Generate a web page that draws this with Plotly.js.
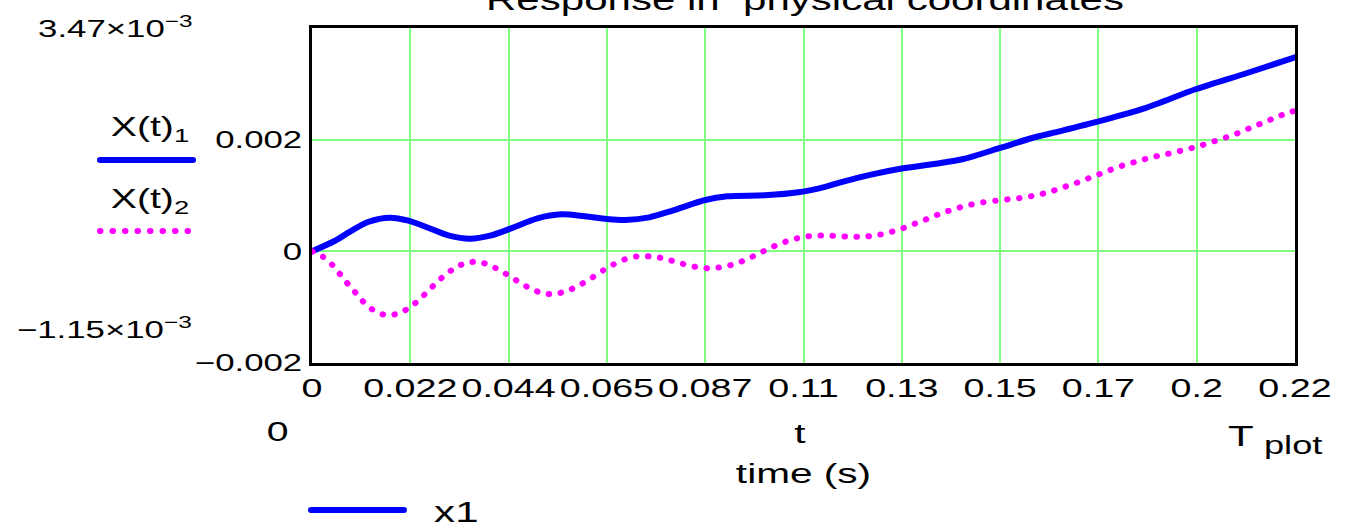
<!DOCTYPE html>
<html>
<head>
<meta charset="utf-8">
<script src="https://cdn.plot.ly/plotly-3.0.1.min.js"></script>
<style>
html, body { margin: 0; padding: 0; background: #ffffff; }
#chart { width: 1355px; height: 529px; }
.scatterlayer .js-line, .shapelayer path { stroke-linecap: round; stroke-linejoin: round; }
</style>
</head>
<body>
<div id="chart"></div>
<script>
// ---- data ----
const T_PLOT = 0.218;

const tX1 = [0, 0.0049, 0.0086, 0.0124, 0.0173, 0.0214, 0.0259, 0.0304, 0.0350, 0.0395,
  0.0440, 0.0500, 0.0553, 0.0605, 0.0654, 0.0695, 0.0748, 0.0801, 0.0872, 0.0921,
  0.1004, 0.1079, 0.1140, 0.1172, 0.1240, 0.1308, 0.1384, 0.1445, 0.1526, 0.1597,
  0.1657, 0.1744, 0.1846, 0.1961, 0.2074, 0.2180];
const x1 = [0, 0.000180, 0.000360, 0.000525, 0.000603, 0.000549, 0.000418, 0.000281, 0.000227, 0.000281,
  0.000406, 0.000591, 0.000663, 0.000627, 0.000579, 0.000561, 0.000609, 0.000734, 0.000919, 0.000985,
  0.001003, 0.001057, 0.001160, 0.001235, 0.001375, 0.001485, 0.001570, 0.001654, 0.001851, 0.002030,
  0.002149, 0.002328, 0.002561, 0.002907, 0.003194, 0.003475];

const tX2 = [0, 0.0025, 0.0046, 0.0063, 0.0081, 0.0099, 0.0117, 0.0139, 0.0165, 0.0191,
  0.0216, 0.0237, 0.0257, 0.0276, 0.0297, 0.0320, 0.0345, 0.0372, 0.0398, 0.0423,
  0.0446, 0.0470, 0.0494, 0.0521, 0.0547, 0.0574, 0.0598, 0.0622, 0.0646, 0.0669,
  0.0694, 0.0721, 0.0749, 0.0776, 0.0803, 0.0829, 0.0856, 0.0883, 0.0910, 0.0938,
  0.0964, 0.0989, 0.1013, 0.1038, 0.1064, 0.1092, 0.1119, 0.1147, 0.1169, 0.1197,
  0.1225, 0.1252, 0.1278, 0.1306, 0.1331, 0.1357, 0.1382, 0.1408, 0.1435, 0.1461,
  0.1488, 0.1516, 0.1543, 0.1570, 0.1597, 0.1624, 0.1651, 0.1677, 0.1703, 0.1729,
  0.1755, 0.1780, 0.1806, 0.1833, 0.1859, 0.1886, 0.1913, 0.1939, 0.1966, 0.1993,
  0.2019, 0.2045, 0.2071, 0.2097, 0.2122, 0.2147, 0.2173, 0.2180];
const x2 = [0, -0.000101, -0.000251, -0.000418, -0.000597, -0.000764, -0.000931, -0.001069, -0.001146, -0.001116,
  -0.001009, -0.000872, -0.000716, -0.000561, -0.000412, -0.000281, -0.000197, -0.000191, -0.000263, -0.000370,
  -0.000484, -0.000603, -0.000704, -0.000764, -0.000752, -0.000681, -0.000585, -0.000466, -0.000340, -0.000233,
  -0.000143, -0.000090, -0.000090, -0.000119, -0.000179, -0.000239, -0.000287, -0.000304, -0.000281, -0.000227,
  -0.000143, -0.000048, 0.000048, 0.000137, 0.000209, 0.000263, 0.000281, 0.000281, 0.000269, 0.000263,
  0.000263, 0.000287, 0.000334, 0.000400, 0.000478, 0.000555, 0.000639, 0.000716, 0.000782, 0.000836,
  0.000878, 0.000907, 0.000931, 0.000955, 0.000991, 0.001039, 0.001104, 0.001176, 0.001248, 0.001331,
  0.001409, 0.001487, 0.001558, 0.001618, 0.001678, 0.001725, 0.001773, 0.001827, 0.001881, 0.001952,
  0.002018, 0.002090, 0.002179, 0.002263, 0.002346, 0.002430, 0.002501, 0.002520];

const xTickLabels = ['0', '0.022', '0.044', '0.065', '0.087', '0.11', '0.13', '0.15', '0.17', '0.2', '0.22'];
const yTickValues = [-0.002, 0, 0.002, 0.004];
const yTickLabels = ['\u22120.002', '0', '0.002', ''];
const yMaxLabel = '3.47\u00d710<sup>\u22123</sup>';
const yMinLabel = '\u22121.15\u00d710<sup>\u22123</sup>';

// ---- layout helpers ----
const W = 1355, H = 529;
const M = { l: 312, r: 60, t: 28, b: 166 };
const PW = W - M.l - M.r, PH = H - M.t - M.b;
const px = x => (x - M.l) / PW;          // page px -> paper x
const py = y => (H - M.b - y) / PH;       // page px -> paper y
const FONT = 'Liberation Sans, Arial, sans-serif';
const BLUE = '#0000ff', MAGENTA = '#ff00ff', GRID = '#80ff80';

const xTickVals = xTickLabels.map((_, i) => i * T_PLOT / 10);

const traces = [
  { x: tX1, y: x1, type: 'scatter', mode: 'lines', name: 'X(t)1',
    line: { color: BLUE, width: 6, shape: 'spline', smoothing: 0.8 }, showlegend: false, hoverinfo: 'skip' },
  { x: tX2, y: x2, type: 'scatter', mode: 'lines', name: 'X(t)2',
    line: { color: MAGENTA, width: 6, dash: '0.5px,11.5px', shape: 'spline', smoothing: 0.6 }, showlegend: false, hoverinfo: 'skip' }
];

function ann(text, cx, cy, size) {
  return { text: text, xref: 'paper', yref: 'paper', x: px(cx), y: py(cy),
    xanchor: 'center', yanchor: 'middle', showarrow: false,
    font: { family: FONT, size: size, color: '#000' } };
}

const layout = {
  width: W, height: H,
  margin: M,
  paper_bgcolor: '#ffffff', plot_bgcolor: '#ffffff',
  font: { family: FONT, color: '#000' },
  showlegend: false,
  title: { text: 'Response in  physical coordinates', font: { family: FONT, size: 29, color: '#000' },
    x: 805 / W, xref: 'container', xanchor: 'center', y: 1, yref: 'container', yanchor: 'middle' },
  xaxis: {
    range: [0, T_PLOT], tickmode: 'array', tickvals: xTickVals, ticktext: xTickLabels,
    showgrid: true, gridcolor: GRID, gridwidth: 2, zeroline: false,
    showline: true, linecolor: '#000', linewidth: 3, mirror: true,
    ticks: '', ticklabelstandoff: 0,
    tickfont: { family: FONT, size: 26, color: '#000' },
    title: { text: 'time (s)', font: { family: FONT, size: 28, color: '#000' }, standoff: 62 }
  },
  yaxis: {
    range: [-0.002, 0.004], tickmode: 'array', tickvals: yTickValues, ticktext: yTickLabels,
    showgrid: true, gridcolor: GRID, gridwidth: 2, zeroline: false,
    showline: true, linecolor: '#000', linewidth: 3, mirror: true,
    ticks: '', ticklabelstandoff: 2,
    tickfont: { family: FONT, size: 24, color: '#000' }
  },
  annotations: [
    ann(yMaxLabel, 115, 27, 24),
    ann(yMinLabel, 104, 328, 24),
    ann('X(t)<sub>1</sub>', 150, 129, 27),
    ann('X(t)<sub>2</sub>', 150, 201, 27),
    ann('0', 277, 432, 27),
    ann('t', 800, 433, 28),
    ann('T', 1241, 436, 29),
    ann('plot', 1293, 445, 25),
    ann('x1', 456, 512, 29)
  ],
  shapes: [
    { type: 'line', xref: 'paper', yref: 'paper', x0: px(100), x1: px(193), y0: py(160), y1: py(160),
      line: { color: BLUE, width: 6 } },
    { type: 'line', xref: 'paper', yref: 'paper', x0: px(100), x1: px(193), y0: py(231), y1: py(231),
      line: { color: MAGENTA, width: 6, dash: '0.5px,12px' } },
    { type: 'line', xref: 'paper', yref: 'paper', x0: px(311), x1: px(404), y0: py(510), y1: py(510),
      line: { color: BLUE, width: 6 } }
  ]
};

// Reference text is drawn horizontally stretched; widen glyphs around their anchor.
function stretchText(gd, s) {
  gd.querySelectorAll('svg text').forEach(function (el) {
    const x = parseFloat(el.getAttribute('x')) || 0;
    const tr = el.getAttribute('transform') || '';
    el.setAttribute('transform', tr + ' translate(' + x + ',0) scale(' + s + ',1) translate(' + (-x) + ',0)');
  });
}

const gd = document.getElementById('chart');
Plotly.newPlot(gd, traces, layout, { staticPlot: true, displayModeBar: false })
  .then(function () { stretchText(gd, 1.45); });
</script>
</body>
</html>
